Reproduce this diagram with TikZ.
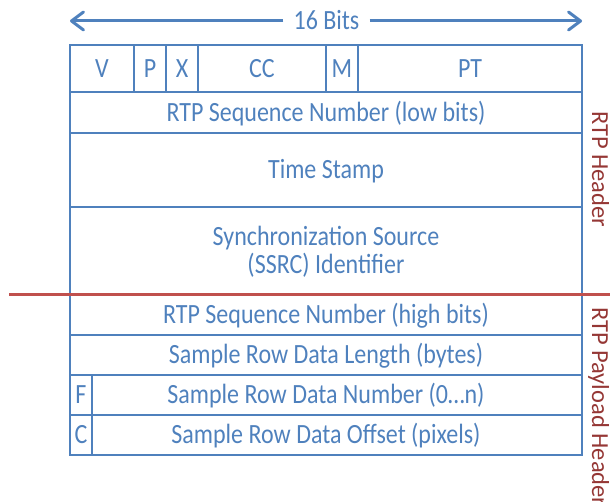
\documentclass[tikz,border=0pt]{standalone}
\usepackage{fontspec}
\setmainfont{Carlito}
\usepackage{graphicx}
\usetikzlibrary{arrows.meta}
\definecolor{hdrblue}{RGB}{79,129,189}
\definecolor{sepred}{RGB}{192,80,77}
\definecolor{lblred}{RGB}{149,55,53}
\newcommand{\Tx}[1]{\scalebox{1}[1.16]{#1}}
\begin{document}
\begin{tikzpicture}[x=1pt,y=-1pt,
  cell/.style={draw=hdrblue, line width=2pt, text=hdrblue,
    font=\fontsize{24}{28}\selectfont, inner sep=0pt,
    text height=17.6pt, text depth=0pt},
  celltext/.style={text=hdrblue, font=\fontsize{24}{28}\selectfont, inner sep=0pt},
  bitslabel/.style={text=hdrblue, font=\fontsize{24}{28}\selectfont,
    inner xsep=10pt, inner ysep=0pt, text height=16pt, text depth=0pt},
  arr/.style={draw=hdrblue, line width=3pt,
    -{Straight Barb[length=12pt,width=18pt,round]}},
  sidelabel/.style={text=lblred, font=\fontsize{24.5}{28}\selectfont,
    inner sep=0pt, rotate=-90, anchor=base west},
  sepline/.style={draw=sepred, line width=3pt}]
\useasboundingbox (0,0) rectangle (610,502);

% width arrow
\coordinate (aL) at (70,21);
\coordinate (aR) at (582,21);
\node[bitslabel] (bits) at (326.5,22) {\Tx{16 Bits}};
\draw[arr] (bits.west |- aL) -- (aL);
\draw[arr] (bits.east |- aR) -- (aR);

% RTP header
\node[cell, minimum width=64pt, minimum height=47pt] (v) at (102,68.5) {\Tx{V}};
\node[cell, minimum width=32pt, minimum height=47pt] (p) at (150,68.5) {\Tx{P}};
\node[cell, minimum width=32pt, minimum height=47pt] (x) at (182,68.5) {\Tx{X}};
\node[cell, minimum width=128pt, minimum height=47pt] (cc) at (262,68.5) {\Tx{CC}};
\node[cell, minimum width=32pt, minimum height=47pt] (m) at (342,68.5) {\Tx{M}};
\node[cell, minimum width=224pt, minimum height=47pt] (pt) at (470,68.5) {\Tx{PT}};
\node[cell, minimum width=512pt, minimum height=41pt] (seqlow) at (326,112.5) {\Tx{RTP Sequence Number (low bits)}};
\node[cell, minimum width=512pt, minimum height=74pt] (ts) at (326,170) {\Tx{Time Stamp}};
\node[cell, minimum width=512pt, minimum height=88pt] (ssrc) at (326,251) {};
\node[celltext, anchor=base] (ssrcA) at (326,246) {\Tx{Synchronization Source}};
\node[celltext, anchor=base] (ssrcB) at (326,274) {\Tx{(SSRC) Identifier}};

% RTP payload header
\node[cell, minimum width=512pt, minimum height=40pt] (seqhigh) at (326,315) {\Tx{RTP Sequence Number (high bits)}};
\node[cell, minimum width=512pt, minimum height=40pt] (len) at (326,355) {\Tx{Sample Row Data Length (bytes)}};
\node[cell, minimum width=512pt, minimum height=40pt] (num) at (326,395) {\Tx{Sample Row Data Number (0…n)}};
\node[cell, minimum width=512pt, minimum height=40pt] (off) at (326,435) {\Tx{Sample Row Data Offset (pixels)}};
\node[cell, minimum width=22pt, minimum height=40pt] (f) at (81,395) {\Tx{F}};
\node[cell, minimum width=22pt, minimum height=40pt] (c) at (81,435) {\Tx{C}};

% separator
\coordinate (redL) at (9,295);
\coordinate (redR) at (610,295);
\draw[sepline] (redL) -- (redR);

% side labels
\node[sidelabel] (rtphdr) at (592,111) {RTP Header};
\node[sidelabel] (rtppl) at (592,307) {RTP Payload Header};
\end{tikzpicture}
\end{document}
